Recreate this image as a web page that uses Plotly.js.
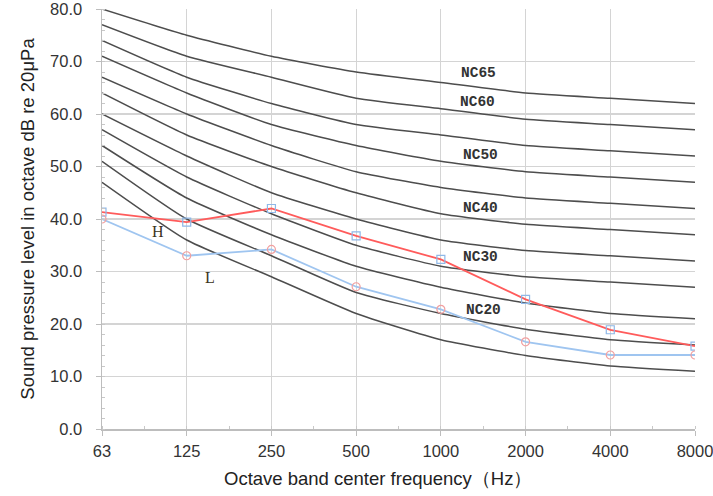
<!DOCTYPE html>
<html><head><meta charset="utf-8">
<script src="https://cdn.plot.ly/plotly-3.0.1.min.js"></script>
<style>html,body{margin:0;padding:0;background:#fff}#c{width:713px;height:496px}</style>
</head><body><div id="c"></div>
<script>
const freqs = ['63','125','250','500','1000','2000','4000','8000'];
const ncNames = ['NC15','NC20','NC25','NC30','NC35','NC40','NC45','NC50','NC55','NC60','NC65'];
const nc15 = [47,36,29,22,17,14,12,11];
const nc20 = [51,40,33,26,22,19,17,16];
const nc25 = [54,44,37,31,27,24,22,21];
const nc30 = [57,48,41,35,31,29,28,27];
const nc35 = [60,52,45,40,36,34,33,32];
const nc40 = [64,56,50,45,41,39,38,37];
const nc45 = [67,60,54,49,46,44,43,42];
const nc50 = [71,64,58,54,51,49,48,47];
const nc55 = [74,67,62,58,56,54,53,52];
const nc60 = [77,71,67,63,61,59,58,57];
const nc65 = [80,75,71,68,66,64,63,62];
const ncCurves = [nc15,nc20,nc25,nc30,nc35,nc40,nc45,nc50,nc55,nc60,nc65];
const hVals = [41.3,39.4,42.0,36.8,32.3,24.7,18.9,15.8];
const lVals = [40.0,33.0,34.2,27.1,22.8,16.6,14.1,14.1];
const yTicks = [0,10,20,30,40,50,60,70,80];
const xTitle = 'Octave band center frequency（Hz）';
const yTitle = 'Sound pressure level in octave dB re 20μPa';

// label positions (x as category index, y in dB)
const ncLabels = ['NC65','NC60','NC50','NC40','NC30','NC20'];
const ncLabelX = [4.44,4.43,4.47,4.47,4.47,4.5];
const ncLabelY = [67.8,62.3,52.2,42.1,32.8,22.7];

const xi = freqs.map((_,i)=>i);
const traces = [];
ncCurves.forEach((c,k)=>{
  traces.push({x:xi,y:c,type:'scatter',mode:'lines',name:ncNames[k],
    line:{color:'#4d4d4d',width:1.5,shape:'spline',smoothing:0.5},hoverinfo:'skip'});
});
traces.push({x:xi,y:hVals,type:'scatter',mode:'lines+markers',name:'H',
  line:{color:'#ff5b5b',width:1.8},
  marker:{symbol:'square-open',size:8,color:'#8fb8e8',line:{width:1.2}}});
traces.push({x:xi,y:lVals,type:'scatter',mode:'lines+markers',name:'L',
  line:{color:'#9fc5f0',width:1.8},
  marker:{symbol:'circle-open',size:8,color:'#f2a0a0',line:{width:1.2}}});

const ann = ncLabels.map((t,i)=>({x:ncLabelX[i],y:ncLabelY[i],text:'<b>'+t+'</b>',showarrow:false,
  font:{family:'Liberation Mono, DejaVu Sans Mono, monospace',size:14.5,color:'#333'},xanchor:'center',yanchor:'middle'}));
ann.push({x:0.66,y:37.7,text:'H',showarrow:false,font:{family:'Liberation Serif, serif',size:16,color:'#3a3320'}});
ann.push({x:1.28,y:28.8,text:'L',showarrow:false,font:{family:'Liberation Serif, serif',size:16,color:'#3a3320'}});
ann.push({xref:'paper',yref:'paper',x:0.465,y:-0.1167,text:xTitle,showarrow:false,
  xanchor:'center',yanchor:'middle',font:{size:18.5,color:'#222'}});

const layout = {
  width:713,height:496,
  margin:{l:102,r:18,t:9,b:67},
  paper_bgcolor:'#fff',plot_bgcolor:'#fff',
  showlegend:false,
  font:{family:'Liberation Sans, Arial, sans-serif',size:16,color:'#333'},
  xaxis:{type:'linear',range:[0,7],tickmode:'array',tickvals:xi,ticktext:freqs,
    showgrid:true,gridcolor:'#d4d4d4',gridwidth:1.2,zeroline:false,
    showline:true,linecolor:'#bdbdbd',linewidth:1.5,ticklabeloverflow:'allow',
    ticks:'outside',ticklen:5,tickcolor:'#bdbdbd',ticklabelstandoff:2,
    minor:{dtick:0.5,tick0:0,ticks:'inside',ticklen:3,tickcolor:'#c8c8c8',showgrid:false},
    tickfont:{size:16.5,color:'#333'}},
  yaxis:{range:[0,80],tickmode:'array',tickvals:yTicks,ticktext:yTicks.map(v=>v.toFixed(1)),
    showgrid:true,gridcolor:'#d4d4d4',gridwidth:1.2,zeroline:false,
    showline:true,linecolor:'#bdbdbd',linewidth:1.5,ticklabeloverflow:'allow',
    ticks:'outside',ticklen:5,tickcolor:'#bdbdbd',ticklabelstandoff:10,
    minor:{dtick:2,tick0:0,ticks:'inside',ticklen:3,tickcolor:'#c8c8c8',showgrid:false},
    tickfont:{size:16.5,color:'#333'},
    title:{text:yTitle,font:{size:18.5,color:'#222'},standoff:10}},
  annotations:ann
};
Plotly.newPlot('c',traces,layout,{displayModeBar:false,staticPlot:true});
</script></body></html>
